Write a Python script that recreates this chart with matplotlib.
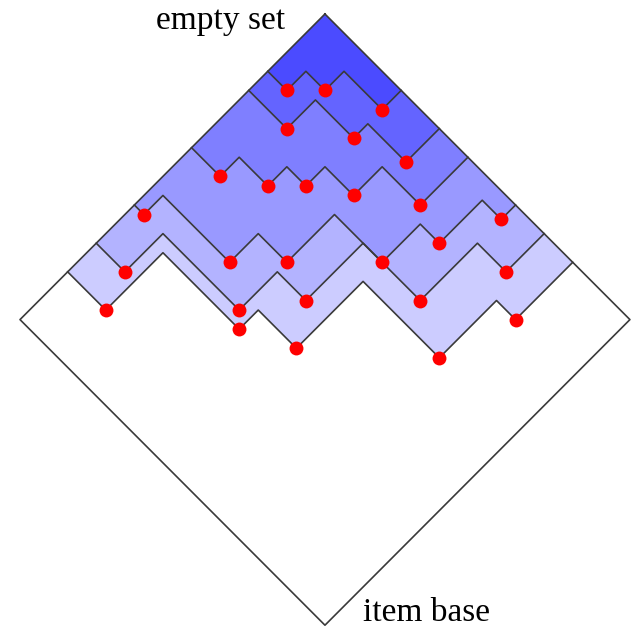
import matplotlib
matplotlib.use("Agg")
import matplotlib.pyplot as plt

# diamond corners: top, right, bottom, left (grid units, y grows downward)
diamond_x = [32, 64, 32, 0]
diamond_y = [0, 32, 64, 32]

# borders between levels, turning points from left edge to right edge
b1_x = [26, 28, 30, 32, 34, 38, 40]
b1_y = [6, 8, 6, 8, 6, 10, 8]
b2_x = [24, 28, 31, 35, 36.5, 40.5, 44]
b2_y = [8, 12, 9, 13, 11.5, 15.5, 12]
b3_x = [18, 21, 23, 26, 28, 30, 32, 35, 38, 42, 47]
b3_y = [14, 17, 15, 18, 16, 18, 16, 19, 16, 20, 15]
b4_x = [12, 13, 15, 22, 25, 28, 33, 38, 42, 44, 48.5, 50.5, 52]
b4_y = [20, 21, 19, 26, 23, 26, 21, 26, 22, 24, 19.5, 21.5, 20]
b5_x = [8, 11, 15, 23, 27, 30, 36, 42, 48, 51, 55]
b5_y = [24, 27, 23, 31, 27, 30, 24, 30, 24, 27, 23]
b6_x = [5, 9, 15, 23, 25, 29, 36, 44, 50, 52, 58]
b6_y = [27, 31, 25, 33, 31, 35, 28, 36, 30, 32, 26]

borders = [(b1_x, b1_y), (b2_x, b2_y), (b3_x, b3_y),
           (b4_x, b4_y), (b5_x, b5_y), (b6_x, b6_y)]
level_colors = ['#4b4bff', '#6464ff', '#7f7fff', '#9999ff', '#b3b3ff', '#ccccff']

line_col = '#3a3a3a'

fig = plt.figure(figsize=(6.31, 6.30), dpi=100)
ax = fig.add_axes([0, 0, 1, 1])

# white diamond
ax.fill(diamond_x, diamond_y, color='white', zorder=0)

# fill from the lowest border up, each polygon closes at the top corner
for (bx, by), col in reversed(list(zip(borders, level_colors))):
    ax.fill(bx + [diamond_x[0]], by + [diamond_y[0]], color=col, lw=0, zorder=1)

for bx, by in borders:
    ax.plot(bx, by, color=line_col, lw=1.2, zorder=2)

ax.plot(diamond_x + [diamond_x[0]], diamond_y + [diamond_y[0]],
        color=line_col, lw=1.2, zorder=3)

# red dots at the valleys of each border
for bx, by in borders:
    vx = [bx[i] for i in range(1, len(bx) - 1) if by[i] > by[i - 1] and by[i] > by[i + 1]]
    vy = [by[i] for i in range(1, len(bx) - 1) if by[i] > by[i - 1] and by[i] > by[i + 1]]
    ax.plot(vx, vy, 'o', color='red', ms=10, mec='none', zorder=4)

ax.text(14.3, 1.57, 'empty set', fontsize=24, family='Liberation Serif',
        ha='left', va='baseline')
ax.text(36.0, 63.6, 'item base', fontsize=24, family='Liberation Serif',
        ha='left', va='baseline')

ax.set_xlim((0 - 20) / 9.53, (631 - 20) / 9.53)
ax.set_ylim((630 - 14) / 9.55, (0 - 14) / 9.55)
ax.axis('off')

fig.savefig('out.png', dpi=100)
